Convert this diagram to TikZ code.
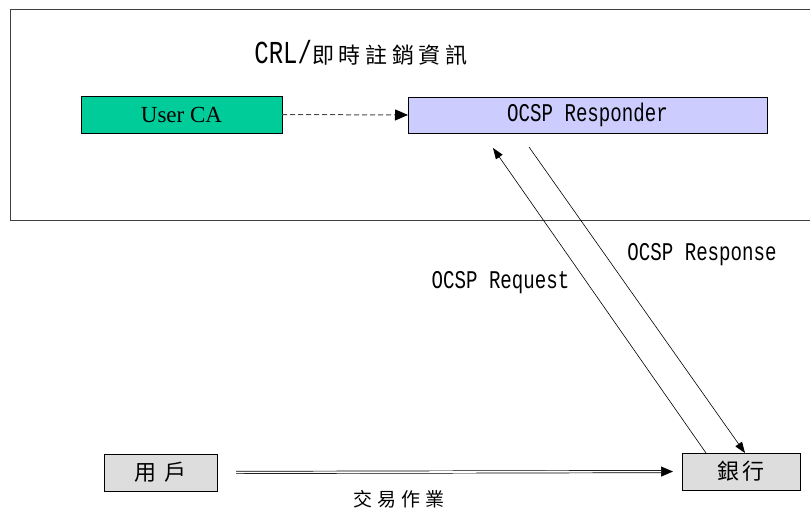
\documentclass[tikz,border=0pt]{standalone}
\usepackage{fontspec}
\setmainfont{Liberation Serif}
\newfontfamily\latinmono[FakeStretch=0.75]{Liberation Mono}
\newfontfamily\cjk{Noto Sans CJK TC}
\usetikzlibrary{arrows.meta}
\definecolor{caGreen}{HTML}{00CC99}
\definecolor{respBlue}{HTML}{CCCCFF}
\definecolor{boxGray}{HTML}{DDDDDD}
\begin{document}
\begin{tikzpicture}[x=1pt,y=-1pt,
  box/.style={draw=black, line width=0.9pt, inner sep=0pt, outer sep=0pt,
              minimum height=37pt},
  monolabel/.style={inner sep=0pt, font=\latinmono\fontsize{25.5}{26}\selectfont},
  cjklabel/.style={inner sep=0pt, font=\cjk\fontsize{22}{24}\selectfont},
  dasharrow/.style={draw=black!70, line width=1pt, dash pattern=on 5pt off 3pt,
                    -{Triangle[length=13pt,width=11pt,color=black]}},
  thinarrow/.style={draw=black, line width=0.6pt,
                    -{Triangle[length=11pt,width=8pt]}},
  dblarrow/.style={draw=black, line width=0.7pt, double=white, double distance=1.6pt,
                   -{Triangle[length=12pt,width=10pt]}}]
\clip (0,0) rectangle (810,511);
\fill[white] (0,0) rectangle (810,511);

% frame round the certificate authority side
\draw[line width=0.8pt, draw=black!75] (10,9) rectangle (840,220);

% title above the authority boxes
\node[inner sep=0pt] (crl) at (361,53)
  {\latinmono\fontsize{32}{34}\selectfont CRL/\cjk\fontsize{22}{24}\selectfont
   即\hspace{4.7pt}時\hspace{4.7pt}註\hspace{4.7pt}銷\hspace{4.7pt}資\hspace{4.7pt}訊};

% boxes
\node[box, fill=caGreen, minimum width=201pt,
      font=\fontsize{23}{24}\selectfont] (ca) at (181.5,114.5) {User CA};
\node[box, fill=respBlue, minimum width=359pt, minimum height=36pt,
      font=\latinmono\fontsize{25.5}{26}\selectfont] (resp) at (587.5,115) {OCSP Responder};
\node[box, fill=boxGray, minimum width=113pt, cjklabel, inner sep=0pt] (user) at (160.5,472.5)
  {用\hspace{8pt}戶};
\node[box, fill=boxGray, minimum width=118pt, cjklabel, inner sep=0pt] (bank) at (741,471.5)
  {銀\hspace{3pt}行};

% connector ends on the boxes
\coordinate (reqtip) at (493,148);
\coordinate (resfoot) at (529,147);
\coordinate (reqfoot) at ([xshift=24pt]bank.north west);
\coordinate (restip) at ([xshift=63pt]bank.north west);

% connectors
\draw[dasharrow] (ca.east) -- (resp.west);
\draw[thinarrow] (reqfoot) -- (reqtip);
\draw[thinarrow] (resfoot) -- (restip);
\draw[dblarrow, shorten <=19pt, shorten >=9pt] (user.east) -- (bank.west);

% connector labels
\node[monolabel] (reqlbl) at (500.5,283) {OCSP Request};
\node[monolabel] (reslbl) at (702,255) {OCSP Response};
\node[inner sep=0pt, font=\cjk\fontsize{19}{20}\selectfont] (txlbl) at (399,499)
  {交\hspace{5pt}易\hspace{5pt}作\hspace{5pt}業};
\end{tikzpicture}
\end{document}
